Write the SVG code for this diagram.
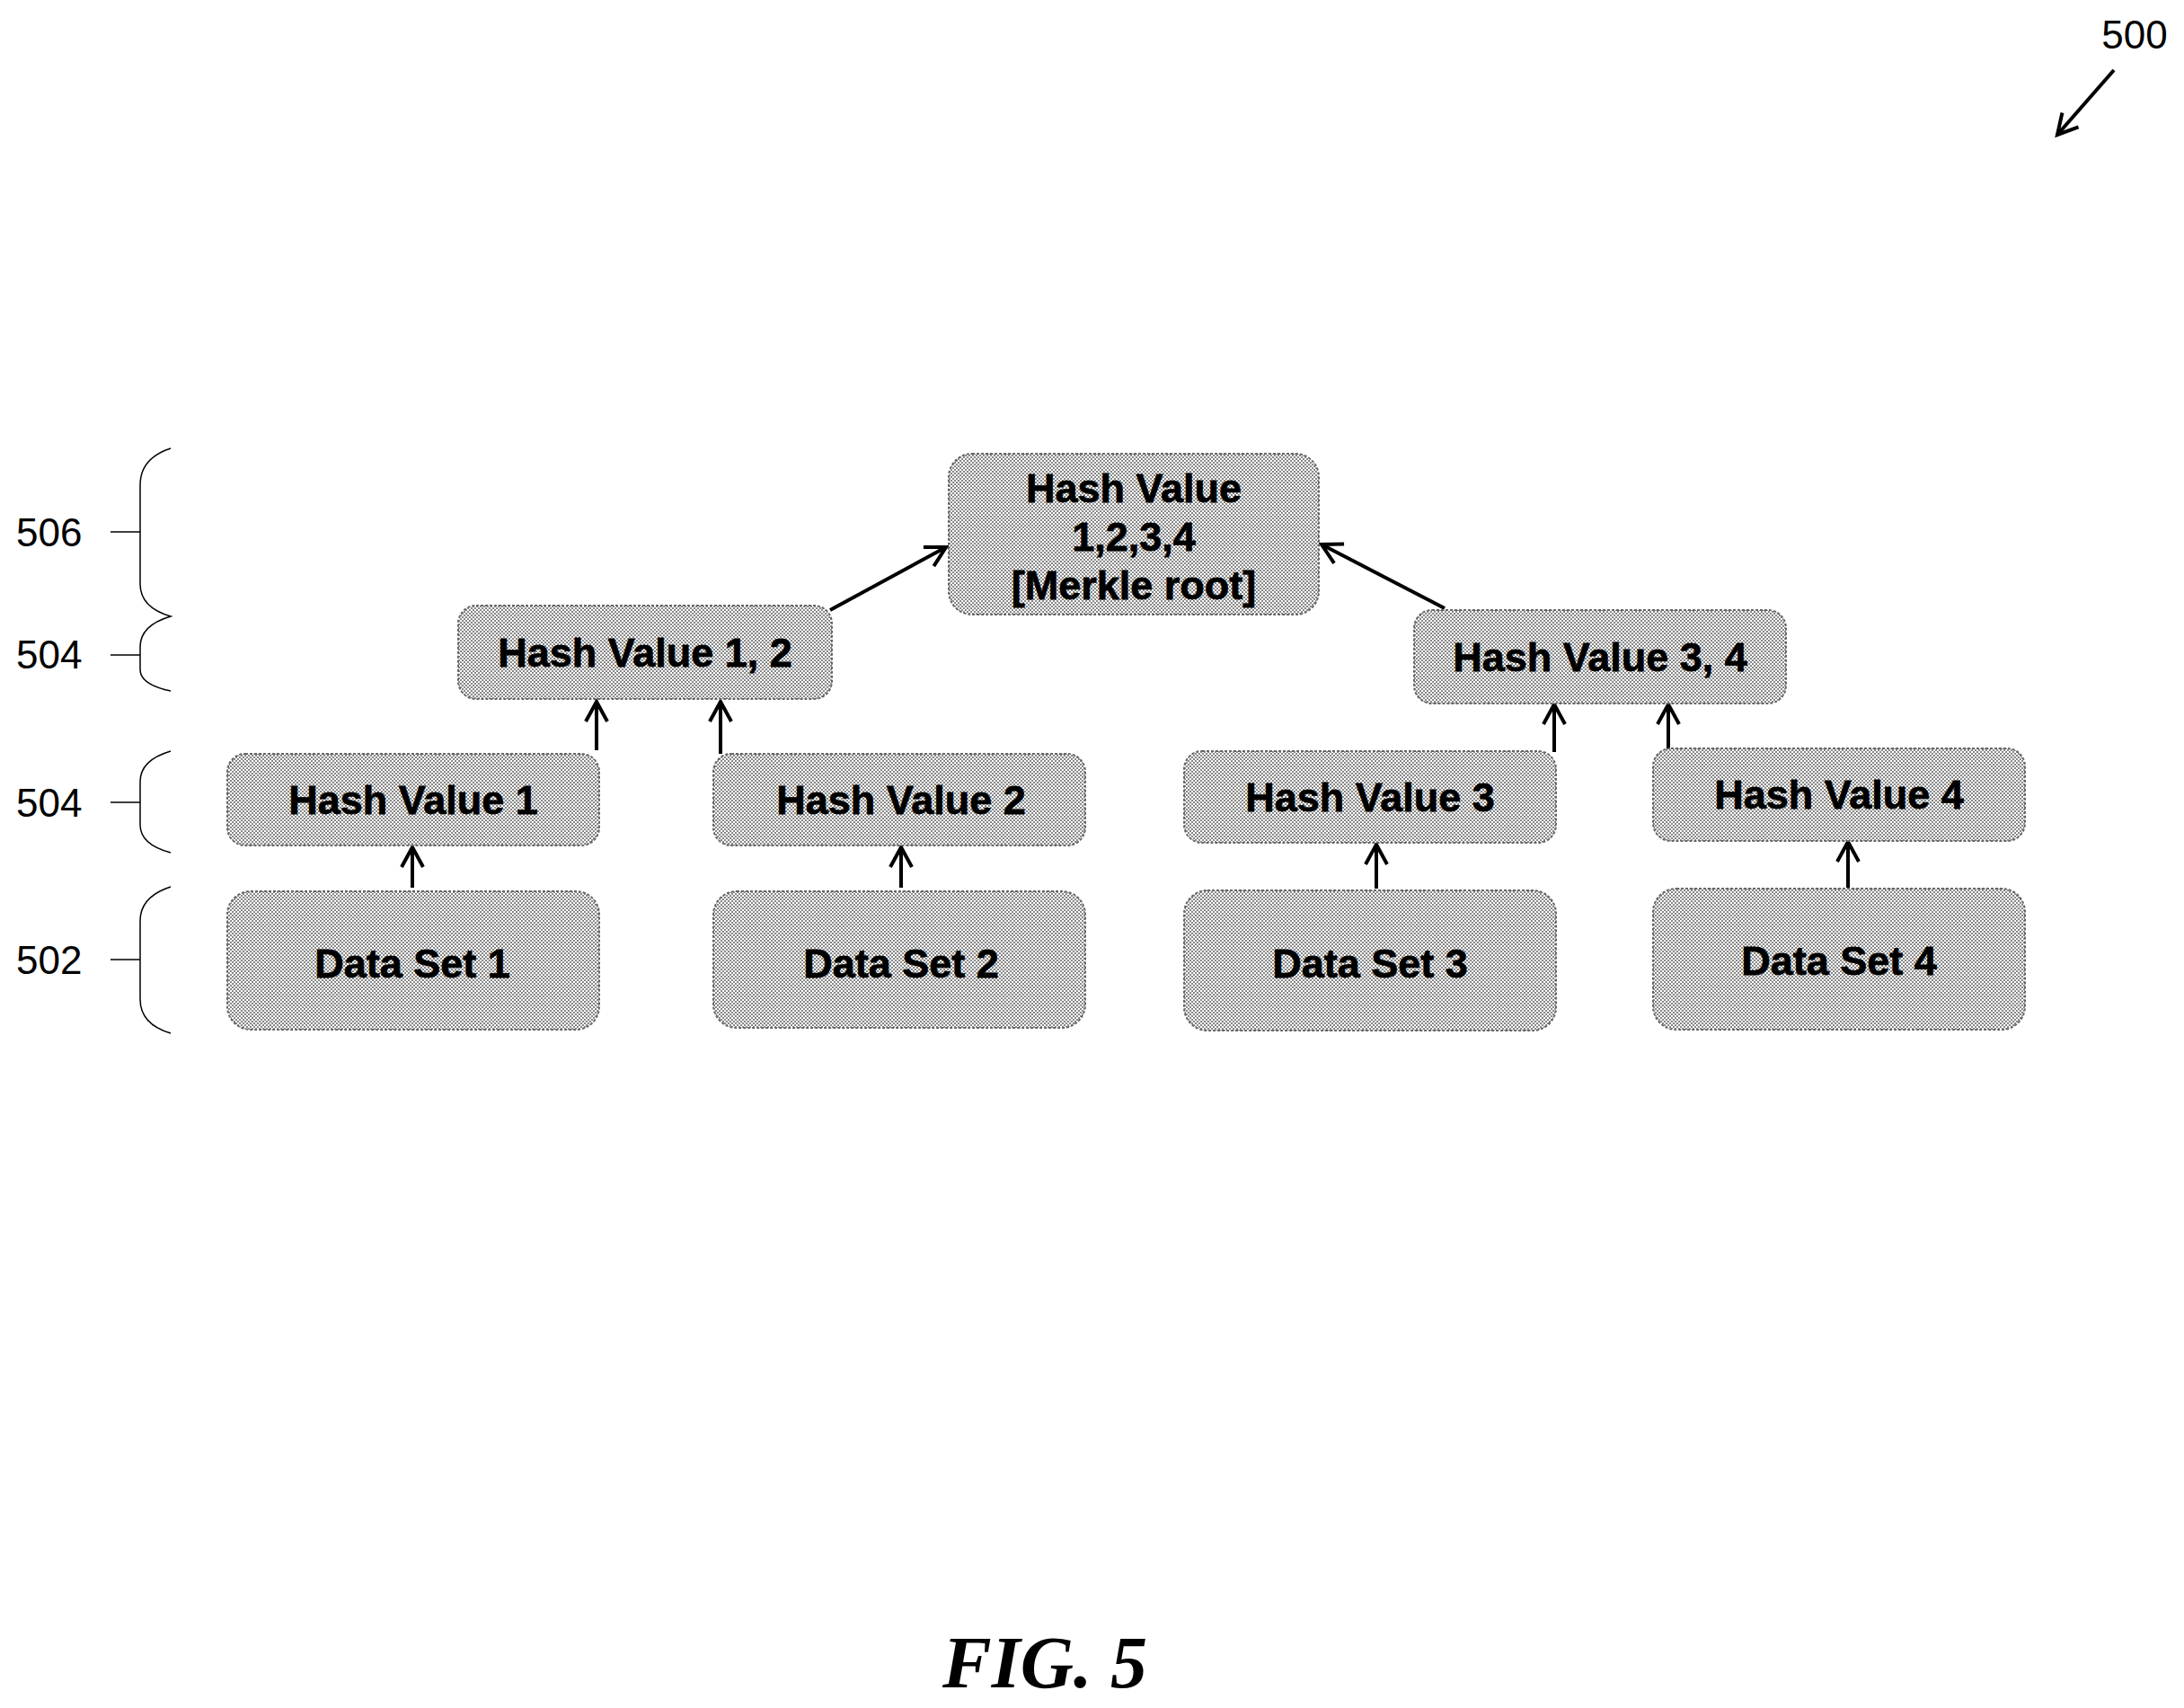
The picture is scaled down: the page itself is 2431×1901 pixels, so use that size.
<svg xmlns="http://www.w3.org/2000/svg" width="2431" height="1901" viewBox="0 0 2431 1901">
<defs>
<pattern id="dots" width="4" height="4" patternUnits="userSpaceOnUse">
<rect width="4" height="4" fill="#ffffff"/>
<rect x="0" y="0" width="2" height="2" fill="#888"/>
<rect x="2" y="2" width="2" height="2" fill="#888"/>
</pattern>
<marker id="ah2" markerWidth="36" markerHeight="36" refX="30" refY="18" orient="auto" markerUnits="userSpaceOnUse" viewBox="0 0 36 36">
<path d="M8,6 L30,18 L8,30" fill="none" stroke="#000" stroke-width="4"/>
</marker>
</defs>
<style>
.box{fill:url(#dots);stroke:#666;stroke-width:2;stroke-dasharray:3 2}
.t{font-family:"Liberation Sans",Arial,sans-serif;font-weight:bold;font-size:45px;text-anchor:middle;fill:#000;stroke:#000;stroke-width:0.8}
.lbl{font-family:"Liberation Sans",Arial,sans-serif;font-size:44px;fill:#000}
.c{stroke:#000;stroke-width:4;fill:none;marker-end:url(#ah2)}
.br{stroke:#000;stroke-width:1.5;fill:none}
</style>
<rect width="2431" height="1901" fill="#fff"/>

<g id="labels">
<text class="lbl" x="2376" y="54" text-anchor="middle">500</text>
<text class="lbl" x="18" y="608">506</text>
<text class="lbl" x="18" y="744">504</text>
<text class="lbl" x="18" y="909">504</text>
<text class="lbl" x="18" y="1084">502</text>
<text x="1163" y="1878" text-anchor="middle" font-family="'Liberation Serif','Times New Roman',serif" font-weight="bold" font-style="italic" font-size="82">FIG. 5</text>
</g>

<g id="braces">
<path class="br" d="M190,499 Q156,510 156,540 L156,650 Q156,676 190,686 Q156,696 156,720 L156,745 Q156,762 190,769"/>
<path class="br" d="M123,592 L156,592 M123,729 L156,729"/>
<path class="br" d="M190,836 Q156,846 156,870 L156,918 Q156,940 190,949 M123,893 L156,893"/>
<path class="br" d="M190,987 Q156,998 156,1025 L156,1112 Q156,1140 190,1150 M123,1068 L156,1068"/>
</g>

<g id="connectors">
<line class="c" x1="2353" y1="78" x2="2290" y2="150"/>
<line class="c" x1="924" y1="679" x2="1053" y2="609"/>
<line class="c" x1="1608" y1="677" x2="1471" y2="606"/>
<line class="c" x1="664" y1="835" x2="664" y2="781"/>
<line class="c" x1="802" y1="839" x2="802" y2="781"/>
<line class="c" x1="1730" y1="837" x2="1730" y2="784"/>
<line class="c" x1="1857" y1="837" x2="1857" y2="784"/>
<line class="c" x1="459" y1="988" x2="459" y2="943"/>
<line class="c" x1="1003" y1="988" x2="1003" y2="943"/>
<line class="c" x1="1532" y1="989" x2="1532" y2="940"/>
<line class="c" x1="2057" y1="988" x2="2057" y2="937"/>
</g>

<g id="root"><rect class="box" x="1056" y="505" width="412" height="179" rx="26"/>
<text class="t" x="1262" y="559">Hash Value</text><text class="t" x="1262" y="613">1,2,3,4</text><text class="t" x="1262" y="667">[Merkle root]</text></g>
<g id="hv12"><rect class="box" x="510" y="674" width="416" height="104" rx="20"/><text class="t" x="718" y="742">Hash Value 1, 2</text></g>
<g id="hv34"><rect class="box" x="1574" y="679" width="414" height="104" rx="20"/><text class="t" x="1781" y="747">Hash Value 3, 4</text></g>
<g id="hv1"><rect class="box" x="253" y="839" width="414" height="102" rx="20"/><text class="t" x="460" y="906">Hash Value 1</text></g>
<g id="hv2"><rect class="box" x="794" y="839" width="414" height="102" rx="20"/><text class="t" x="1003" y="906">Hash Value 2</text></g>
<g id="hv3"><rect class="box" x="1318" y="836" width="414" height="102" rx="20"/><text class="t" x="1525" y="903">Hash Value 3</text></g>
<g id="hv4"><rect class="box" x="1840" y="833" width="414" height="103" rx="20"/><text class="t" x="2047" y="900">Hash Value 4</text></g>
<g id="ds1"><rect class="box" x="253" y="992" width="414" height="154" rx="26"/><text class="t" x="459" y="1088">Data Set 1</text></g>
<g id="ds2"><rect class="box" x="794" y="992" width="414" height="152" rx="26"/><text class="t" x="1003" y="1088">Data Set 2</text></g>
<g id="ds3"><rect class="box" x="1318" y="991" width="414" height="156" rx="26"/><text class="t" x="1525" y="1088">Data Set 3</text></g>
<g id="ds4"><rect class="box" x="1840" y="989" width="414" height="157" rx="26"/><text class="t" x="2047" y="1085">Data Set 4</text></g>
</svg>
